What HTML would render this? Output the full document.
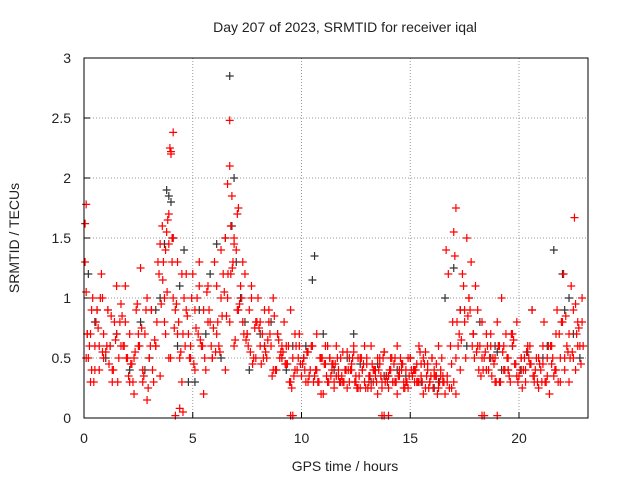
<!DOCTYPE html>
<html><head><meta charset="utf-8"><style>
body{margin:0;background:#fff}
svg text{font-family:"Liberation Sans",sans-serif;fill:#222}
</style></head><body>
<svg id="chart" width="640" height="480" xmlns="http://www.w3.org/2000/svg">
<rect width="640" height="480" fill="#fff"/>
<text x="345" y="32" font-size="14" text-anchor="middle">Day 207 of 2023, SRMTID for receiver iqal</text>
<text x="345" y="471" font-size="14" text-anchor="middle">GPS time / hours</text>
<text x="19" y="238" font-size="14" text-anchor="middle" transform="rotate(-90 19 238)">SRMTID / TECUs</text>
<g id="grid"></g><g id="ticks"></g><g id="marks"></g>
<rect x="84" y="58" width="504" height="360" fill="none" stroke="#000" stroke-width="1"/>
</svg>
<script>
const xTicks=[0,5,10,15,20];
const yTicks=[0,0.5,1,1.5,2,2.5,3];
const yTickLabels=["0","0.5","1","1.5","2","2.5","3"];
const blackT=[0.2,0.6,1.0,1.5,2.1,2.6,3.0,3.5,3.7,3.8,3.9,4.1,4.3,4.6,4.8,5.3,5.8,6.1,6.5,6.7,6.8,7.0,7.2,7.6,8.1,8.6,9.1,9.6,10.2,10.6,11.0,11.5,12.1,12.7,13.2,13.8,14.4,15.0,15.5,16.1,16.6,17.0,17.3,17.6,18.2,18.7,19.2,19.7,20.1,20.6,21.1,21.6,22.0,22.3,22.5,22.8,4.0,6.9,10.5,12.4,14.0,19.0,0.5,1.2,2.8,3.3,4.4,5.1,5.6,6.3,7.4,8.3,9.3,10.1,11.8,13.5,14.8,16.3,17.9,18.9,19.5,20.4,21.3,22.1];
const blackV=[1.2,0.9,0.5,0.7,0.4,0.8,0.5,1.0,1.45,1.9,1.85,1.5,0.6,1.4,0.3,0.9,1.2,1.45,1.5,2.85,1.6,1.3,1.0,0.4,0.7,0.8,0.5,0.6,0.6,1.35,0.7,0.4,0.5,0.45,0.3,0.35,0.4,0.5,0.3,0.25,1.0,1.25,0.9,0.6,0.8,0.5,0.4,0.6,0.4,0.9,0.5,1.4,1.2,1.0,0.7,0.5,1.8,2.0,1.15,0.7,0.35,0.55,0.8,0.6,0.4,0.9,1.1,0.3,0.7,0.5,0.8,0.6,0.4,0.5,0.3,0.45,0.35,0.3,0.7,0.6,0.4,0.55,0.6,0.9];
const redT=[0.05,0.1,0.15,0.2,0.3,0.35,0.4,0.5,0.55,0.6,0.7,0.8,0.85,0.9,1.0,1.1,1.2,1.3,1.4,1.5,1.6,1.7,1.8,1.9,2.0,2.1,2.2,2.3,2.4,2.5,2.6,2.7,2.8,2.9,3.0,3.1,3.2,3.3,3.4,3.5,3.6,3.7,3.75,3.8,3.85,3.9,3.95,4.0,4.05,4.1,4.2,4.3,4.4,4.5,4.6,4.7,4.8,4.9,5.0,5.1,5.2,5.3,5.4,5.5,5.6,5.7,5.8,5.9,6.0,6.1,6.2,6.3,6.4,6.5,6.6,6.7,6.75,6.8,6.85,6.9,7.0,7.1,7.2,7.3,7.4,7.5,7.6,7.7,7.8,7.9,8.0,8.1,8.2,8.3,8.4,8.5,8.6,8.7,8.8,8.9,9.0,9.1,9.2,9.3,9.4,9.5,9.6,9.7,9.8,9.9,10.0,10.1,10.2,10.3,10.4,10.5,10.6,10.7,10.8,10.9,11.0,11.1,11.2,11.3,11.4,11.5,11.6,11.7,11.8,11.9,12.0,12.1,12.2,12.3,12.4,12.5,12.6,12.7,12.8,12.9,13.0,13.1,13.2,13.3,13.4,13.5,13.6,13.7,13.8,13.9,14.0,14.1,14.2,14.3,14.4,14.5,14.6,14.7,14.8,14.9,15.0,15.1,15.2,15.3,15.4,15.5,15.6,15.7,15.8,15.9,16.0,16.1,16.2,16.3,16.4,16.5,16.6,16.7,16.8,16.9,17.0,17.1,17.2,17.3,17.4,17.5,17.6,17.7,17.8,17.9,18.0,18.1,18.2,18.3,18.4,18.5,18.6,18.7,18.8,18.9,19.0,19.1,19.2,19.3,19.4,19.5,19.6,19.7,19.8,19.9,20.0,20.1,20.2,20.3,20.4,20.5,20.6,20.7,20.8,20.9,21.0,21.1,21.2,21.3,21.4,21.5,21.6,21.7,21.8,21.9,22.0,22.1,22.2,22.3,22.4,22.5,22.6,22.7,22.8,22.9,
0.1,0.3,0.5,0.7,0.9,1.1,1.3,1.5,1.7,1.9,2.1,2.3,2.5,2.7,2.9,3.1,3.3,3.5,3.7,3.9,4.1,4.3,4.5,4.7,4.9,5.1,5.3,5.5,5.7,5.9,6.1,6.3,6.5,6.7,6.9,7.1,7.3,7.5,7.7,7.9,8.1,8.3,8.5,8.7,8.9,9.1,9.3,9.5,9.7,9.9,10.1,10.3,10.5,10.7,10.9,11.1,11.3,11.5,11.7,11.9,12.1,12.3,12.5,12.7,12.9,13.1,13.3,13.5,13.7,13.9,14.1,14.3,14.5,14.7,14.9,15.1,15.3,15.5,15.7,15.9,16.1,16.3,16.5,16.7,16.9,17.1,17.3,17.5,17.7,17.9,18.1,18.3,18.5,18.7,18.9,19.1,19.3,19.5,19.7,19.9,20.1,20.3,20.5,20.7,20.9,21.1,21.3,21.5,21.7,21.9,22.1,22.3,22.5,22.7,22.9,
0.15,0.45,0.75,1.05,1.35,1.65,1.95,2.25,2.55,2.85,3.15,3.45,3.75,4.05,4.35,4.65,4.95,5.25,5.55,5.85,6.15,6.45,6.75,7.05,7.35,7.65,7.95,8.25,8.55,8.85,9.15,9.45,9.75,10.05,10.35,10.65,10.95,11.25,11.55,11.85,12.15,12.45,12.75,13.05,13.35,13.65,13.95,14.25,14.55,14.85,15.15,15.45,15.75,16.05,16.35,16.65,16.95,17.25,17.55,17.85,18.15,18.45,18.75,19.05,19.35,19.65,19.95,20.25,20.55,20.85,21.15,21.45,21.75,22.05,22.35,22.65,22.95,
4.1,4.0,3.9,6.6,6.7,6.9,0.05,0.1,17.0,17.1,22.55,7.05,4.2,9.5,9.6,13.7,13.8,14.0,18.3,18.4,19.0,4.4,4.55,
0.25,0.65,1.15,1.45,1.75,2.05,2.35,2.65,2.95,3.25,3.55,3.65,3.82,4.15,4.45,4.75,5.05,5.35,5.65,5.95,6.25,6.55,6.82,7.15,7.45,7.75,8.05,8.35,8.65,8.95,9.25,9.55,9.85,10.15,10.45,10.75,11.05,11.35,11.65,11.95,12.25,12.55,12.85,13.15,13.45,13.75,14.05,14.35,14.65,14.95,15.25,15.55,15.85,16.15,16.45,16.75,17.05,17.35,17.65,17.95,18.25,18.55,18.85,19.15,19.45,19.75,20.05,20.35,20.65,20.95,21.25,21.55,21.85,22.15,22.45,22.75,
0.35,0.85,1.25,1.55,1.85,2.15,2.45,2.75,3.05,3.35,3.62,3.98,4.25,4.55,4.85,5.15,5.45,5.75,6.05,6.35,6.62,6.95,7.25,7.55,7.85,8.15,8.45,8.75,9.05,9.35,9.65,9.95,10.25,10.55,10.85,11.15,11.45,11.75,12.05,12.35,12.65,12.95,13.25,13.55,13.85,14.15,14.45,14.75,15.05,15.35,15.65,15.95,16.25,16.55,16.85,17.15,17.45,17.75,18.05,18.35,18.65,18.95,19.25,19.55,19.85,20.15,20.45,20.75,21.05,21.35,21.65,21.95,22.25,22.6,22.85,
11.2,11.6,12.2,12.6,13.0,13.4,13.8,14.2,14.6,15.0,15.4,15.8,16.2,11.4,11.8,12.4,12.8,13.2,13.6,14.0,14.4,14.8,15.2,15.6,16.0,16.4];
const redV=[1.3,1.78,0.7,0.5,0.3,0.9,1.0,0.6,0.8,0.9,0.4,1.2,1.0,0.7,0.55,0.9,0.6,0.3,0.8,0.7,0.5,0.95,0.6,1.1,0.5,0.7,0.45,0.2,0.9,0.6,1.25,0.3,0.7,1.0,0.5,0.9,0.3,0.6,1.3,1.45,1.6,1.0,1.4,1.55,1.65,1.7,2.25,2.22,1.3,1.5,0.9,1.3,0.5,0.3,1.0,1.2,0.7,0.5,1.2,0.9,1.0,1.3,0.6,0.9,0.4,1.1,0.8,0.5,1.3,1.1,0.6,1.4,1.2,1.5,1.0,2.1,1.6,1.85,1.3,1.5,1.4,1.75,1.1,0.8,1.2,0.7,0.9,1.0,0.5,0.8,1.0,0.6,0.7,0.9,0.5,0.8,0.6,1.0,0.4,0.7,0.5,0.6,0.8,0.45,0.6,0.3,0.5,0.7,0.4,0.6,0.35,0.5,0.3,0.55,0.4,0.6,0.35,0.7,0.3,0.5,0.2,0.45,0.3,0.5,0.4,0.25,0.6,0.35,0.5,0.3,0.4,0.55,0.3,0.45,0.6,0.35,0.5,0.25,0.4,0.3,0.5,0.35,0.6,0.3,0.4,0.2,0.45,0.3,0.55,0.35,0.25,0.4,0.3,0.5,0.2,0.35,0.45,0.3,0.4,0.25,0.5,0.35,0.3,0.45,0.6,0.35,0.5,0.25,0.4,0.3,0.5,0.35,0.45,0.25,0.4,0.3,0.2,0.35,0.25,0.45,0.3,0.2,0.6,0.9,1.2,0.8,1.5,1.0,1.3,0.7,1.1,0.9,0.6,0.8,0.5,0.7,0.4,0.6,0.5,0.3,0.8,0.6,1.0,0.4,0.7,0.5,0.3,0.6,0.45,0.8,0.35,0.5,0.4,0.3,0.6,0.45,0.9,0.35,0.5,0.25,0.4,0.6,0.3,0.5,0.2,0.45,0.35,0.7,0.3,0.5,0.8,0.4,0.6,0.3,1.1,0.5,0.4,0.8,0.6,1.0,0.5,0.7,0.4,0.6,
0.5,0.9,0.4,1.1,0.6,0.8,0.3,0.5,0.7,0.4,0.15,0.9,0.6,0.35,0.8,0.5,1.0,0.7,1.2,0.9,0.6,0.4,1.1,0.2,0.8,0.5,0.7,1.0,0.4,0.8,0.6,0.9,1.3,0.7,1.1,0.5,0.8,0.6,0.9,0.4,0.7,0.5,0.6,0.9,0.4,0.7,0.5,0.3,0.6,0.4,0.2,0.6,0.5,0.3,0.4,0.55,0.25,0.4,0.3,0.5,0.6,0.3,0.4,0.5,0.25,0.35,0.5,0.3,0.4,0.25,0.5,0.35,0.3,0.45,0.55,0.3,0.4,0.6,0.35,0.3,0.25,0.5,0.4,0.9,1.0,0.7,0.6,0.5,0.4,0.7,0.5,0.3,0.6,0.4,0.7,0.35,0.5,0.4,0.6,0.3,0.5,0.45,0.35,0.6,0.4,0.3,0.5,0.7,0.9,0.6,0.8,
0.7,0.3,1.0,0.6,0.4,0.8,0.5,0.3,0.6,0.9,0.4,1.2,0.7,1.5,0.8,0.6,1.0,0.7,0.5,0.6,0.8,1.05,1.2,0.9,0.7,0.55,0.8,0.5,0.7,0.4,0.55,0.3,0.6,0.45,0.35,0.4,0.5,0.3,0.45,0.35,0.4,0.3,0.5,0.25,0.4,0.35,0.3,0.45,0.5,0.3,0.4,0.55,0.35,0.25,0.3,1.4,0.8,0.7,0.5,0.6,0.4,0.55,0.35,0.6,0.4,0.7,0.3,0.5,0.45,0.3,0.8,0.6,0.9,1.2,0.5,0.7,0.6,
2.38,2.2,1.45,1.95,2.48,1.45,1.62,1.05,1.55,1.75,1.67,1.7,0.02,0.02,0.02,0.02,0.02,0.02,0.02,0.02,0.02,0.08,0.05,
0.6,0.75,0.45,0.65,0.85,0.35,0.55,0.75,0.25,0.65,0.95,1.3,1.05,0.75,0.55,0.85,0.45,0.65,1.05,0.75,0.55,0.85,1.25,0.95,0.65,0.45,0.75,0.55,0.35,0.65,0.45,0.25,0.5,0.4,0.6,0.3,0.45,0.35,0.5,0.3,0.4,0.25,0.45,0.35,0.3,0.5,0.4,0.3,0.45,0.35,0.4,0.3,0.25,0.35,0.5,1.2,1.35,0.65,0.85,0.5,0.35,0.6,0.45,0.3,0.5,0.65,0.4,0.55,0.35,0.45,0.3,0.5,0.7,0.85,0.55,0.75,
0.4,0.55,0.85,0.3,0.6,0.45,0.95,0.35,0.6,0.8,1.15,0.5,0.95,0.7,0.5,0.75,0.6,0.9,0.55,0.85,1.2,0.65,1.0,0.6,0.75,0.45,0.65,0.85,0.55,0.45,0.35,0.45,0.55,0.3,0.5,0.35,0.45,0.3,0.4,0.5,0.35,0.25,0.45,0.4,0.3,0.5,0.35,0.25,0.4,0.3,0.45,0.35,0.2,0.3,0.6,0.8,1.1,0.9,0.55,0.4,0.5,0.3,0.55,0.35,0.45,0.25,0.5,0.4,0.3,0.6,0.4,0.8,0.55,0.95,0.45,
0.6,0.35,0.5,0.25,0.45,0.35,0.55,0.3,0.4,0.5,0.3,0.45,0.35,0.45,0.3,0.55,0.4,0.25,0.5,0.35,0.6,0.3,0.4,0.2,0.5,0.35];
const X0=84,X1=588,Y0=418,Y1=58,XMAX=(588-84)/21.75,YMAX=3;
const xs=v=>X0+v/XMAX*(X1-X0);
const ys=v=>Y0-v/YMAX*(Y0-Y1);
const NS="http://www.w3.org/2000/svg";
const grid=document.getElementById('grid'),ticks=document.getElementById('ticks'),marks=document.getElementById('marks');
function mk(tag,at,parent){const e=document.createElementNS(NS,tag);for(const k in at)e.setAttribute(k,at[k]);parent.appendChild(e);return e;}
xTicks.forEach(t=>{const x=xs(t);
 if(t>0){const g=mk('line',{x1:x,x2:x,y1:Y1,y2:Y0,stroke:'#999','stroke-dasharray':'1,2','stroke-width':1},grid);
 
 }
 const tk=mk('line',{x1:x,x2:x,y1:Y0,y2:Y0-6,stroke:'#000'},ticks);
 
 
 const l=mk('text',{x:x,y:Y0+25,'font-size':14,'text-anchor':'middle'},ticks);l.textContent=t;
 
 });
yTicks.forEach((t,i)=>{const y=ys(t);
 if(t>0&&t<3){const g=mk('line',{x1:X0,x2:X1,y1:y,y2:y,stroke:'#999','stroke-dasharray':'1,2','stroke-width':1},grid);
 
 }
 const tk=mk('line',{x1:X0,x2:X0+6,y1:y,y2:y,stroke:'#000'},ticks);
 
 
 const l=mk('text',{x:X0-13,y:y+5,'font-size':14,'text-anchor':'end'},ticks);l.textContent=yTickLabels[i];
 
 });
function plus(t,v,col,name){const x=xs(t),y=ys(v);
 const p=mk('path',{d:`M${x-4},${y}H${x+4}M${x},${y-4}V${y+4}`,stroke:col,'stroke-width':1.2,fill:'none'},marks);
 
 }
blackT.forEach((t,i)=>plus(t,blackV[i],'#333','black-point'));
redT.forEach((t,i)=>plus(t,redV[i],'#f00','red-point'));
</script>
</body></html>
